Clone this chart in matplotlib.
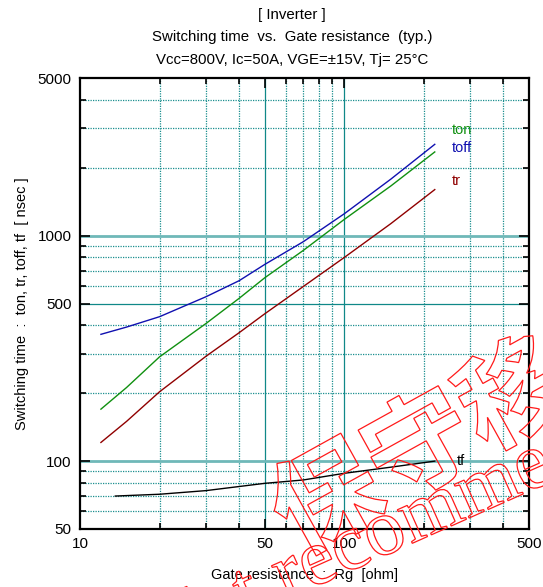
import matplotlib
matplotlib.use("Agg")
import matplotlib.pyplot as plt
from matplotlib.textpath import TextPath
from matplotlib.patches import PathPatch
from matplotlib.font_manager import FontProperties
from matplotlib.transforms import Affine2D
from matplotlib.ticker import FixedLocator, NullFormatter

# data (Rg in ohm, times in nsec)
rg = [12, 15, 20, 30, 40, 50, 70, 100, 150, 220]
toff = [365, 393, 437, 536, 631, 745, 940, 1250, 1780, 2540]
ton = [170, 212, 290, 408, 527, 650, 860, 1180, 1660, 2350]
tr = [121, 150, 203, 292, 371, 450, 595, 800, 1130, 1600]
rg_tf = [13.6, 20, 30, 50, 70, 100, 150, 220]
tf = [70, 71.3, 74, 79.7, 82.5, 88.3, 94, 100]

x_ticks = [10, 50, 100, 500]
y_ticks = [50, 100, 500, 1000, 5000]

plt.rcParams["font.family"] = ["Liberation Sans", "DejaVu Sans"]

W, H = 543, 587
fig = plt.figure(figsize=(W / 100, H / 100), dpi=100)
ax = fig.add_axes([80 / W, (H - 529) / H, 449 / W, 451 / H])
ax.set_xscale("log")
ax.set_yscale("log")
ax.set_xlim(10, 500)
ax.set_ylim(50, 5000)

#grid lines: solid at the main values, dotted elsewhere
teal = "#1a8f8f"
for v in [20, 30, 40, 60, 70, 80, 90, 200, 300, 400]:
    ax.axvline(v, color=teal, lw=0.9, ls=(0, (1, 1)), zorder=1)
for v in [50, 100]:
    ax.axvline(v, color="#108888", lw=0.9, zorder=1)
for v in [60, 70, 80, 90, 200, 300, 400, 600, 700, 800, 900, 2000, 3000, 4000]:
    ax.axhline(v, color=teal, lw=0.9, ls=(0, (1, 1)), zorder=1)
ax.axhline(500, color="#108888", lw=0.9, zorder=1)
for v in [100, 1000]:
    ax.axhline(v, color="#6fb8b8", lw=2.0, zorder=1)

#curves
ax.plot(rg, toff, color="#1010b0", lw=1.0, zorder=3)
ax.plot(rg, ton, color="#109010", lw=1.0, zorder=3)
ax.plot(rg, tr, color="#900000", lw=1.0, zorder=3)
ax.plot(rg_tf, tf, color="black", lw=1.0, zorder=3)

#curve labels
ax.text(255, 2950, "ton", color="#109010", fontsize=10.5, va="center")
ax.text(255, 2440, "toff", color="#1010b0", fontsize=10.5, va="center")
ax.text(255, 1750, "tr", color="#900000", fontsize=10.5, va="center")
ax.text(266, 100, "tf", color="black", fontsize=10.5, va="center")

#ticks
ax.xaxis.set_major_locator(FixedLocator(x_ticks))
ax.xaxis.set_minor_locator(FixedLocator([20, 30, 40, 60, 70, 80, 90, 200, 300, 400]))
ax.set_xticklabels([str(v) for v in x_ticks])
ax.xaxis.set_minor_formatter(NullFormatter())
ax.yaxis.set_major_locator(FixedLocator(y_ticks))
ax.yaxis.set_minor_locator(FixedLocator([60, 70, 80, 90, 200, 300, 400, 600, 700, 800, 900, 2000, 3000, 4000]))
ax.set_yticklabels([str(v) for v in y_ticks])
ax.yaxis.set_minor_formatter(NullFormatter())
ax.tick_params(which="both", direction="in", top=True, right=True, width=1.2, labelsize=11)
ax.tick_params(which="major", length=7, pad=6)
ax.tick_params(which="minor", length=4)
for s in ax.spines.values():
    s.set_linewidth(1.6)

ax.set_xlabel("Gate resistance  :  Rg  [ohm]", fontsize=10.5, labelpad=12)
ax.set_ylabel("Switching time  :  ton, tr, toff, tf  [ nsec ]", fontsize=10.5, labelpad=6)

fig.text(292 / W, 1 - 15 / H, "[ Inverter ]", ha="center", va="center", fontsize=10.8)
fig.text(292 / W, 1 - 37 / H, "Switching time  vs.  Gate resistance  (typ.)", ha="center", va="center", fontsize=10.8)
fig.text(292 / W, 1 - 60 / H, "Vcc=800V, Ic=50A, VGE=\u00b115V, Tj= 25\u00b0C", ha="center", va="center", fontsize=10.8)

#outlined red watermark
def outline_text(s, x, y, size, angle, prop):
    path = TextPath((0, 0), s, size=size, prop=prop)
    tfm = Affine2D().rotate_deg(angle).translate(x, H - y)
    patch = PathPatch(path, transform=tfm, facecolor="none", edgecolor="#ff1a1a", lw=0.9, zorder=10)
    fig.add_artist(patch)

outline_text("保守移行", 297, 556, 107, 29, FontProperties(family="Noto Sans CJK JP", weight="bold"))
outline_text("Not", 157, 657, 80, 24, FontProperties(family="Liberation Serif"))
outline_text("recommended", 285, 600, 80, 24, FontProperties(family="Liberation Serif"))

fig.savefig("out.png", dpi=100)
